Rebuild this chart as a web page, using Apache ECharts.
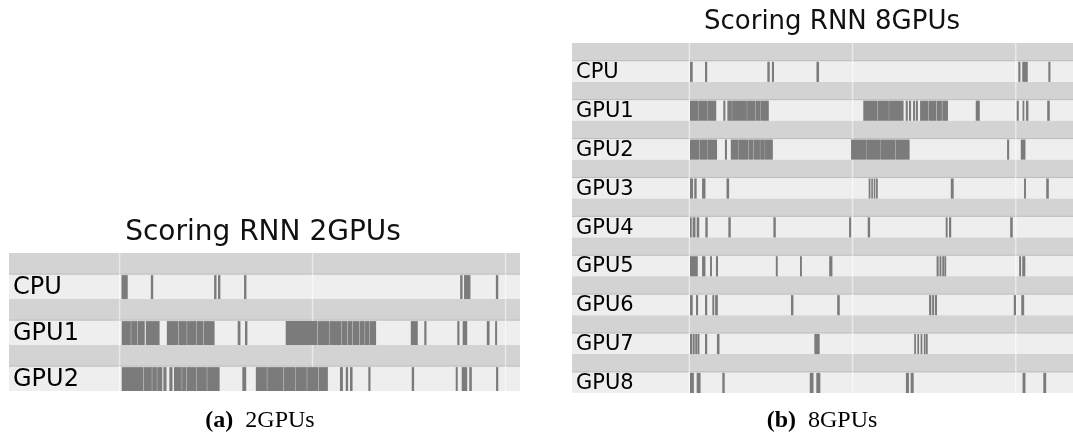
<!DOCTYPE html>
<html><head><meta charset="utf-8">
<script src="https://cdn.jsdelivr.net/npm/echarts@6/dist/echarts.min.js"></script>
<style>html,body{margin:0;padding:0;background:#fff}#c{width:1073px;height:434px}</style>
</head><body><div id="c"></div>
<script>
// ---------- data (time units; grid lines every 10 units) ----------
const rows2 = ['CPU', 'GPU1', 'GPU2'];
const rows8 = ['CPU', 'GPU1', 'GPU2', 'GPU3', 'GPU4', 'GPU5', 'GPU6', 'GPU7', 'GPU8'];
const gridTicks = [0, 10, 20];

// 2-GPU run: busy intervals [start, end]
const cpu2 = [[0.1,0.4],[1.62,1.72],[4.9,5.0],[5.1,5.2],[6.45,6.55],[17.65,17.75],[17.85,18.16],[19.5,19.6]];
const gpu1_2 = [[0.11,0.56],[0.6,0.9],[0.94,1.28],[1.36,2.05],[2.45,3.03],[3.07,3.46],[3.5,3.94],[3.98,4.32],[4.36,4.9],
  [6.12,6.24],[6.5,6.6],[8.61,10.23],[10.27,10.83],[10.87,11.48],[11.52,11.78],[11.82,12.04],[12.08,12.4],[12.44,12.68],[12.72,12.93],[12.97,13.27],
  [15.09,15.43],[15.79,15.88],[17.5,17.59],[17.78,17.99],[19.03,19.15],[19.46,19.54]];
const gpu2_2 = [[0.11,1.21],[1.25,1.65],[1.69,1.91],[1.95,2.19],[2.27,2.41],[2.58,2.72],[2.82,3.2],[3.24,3.43],[3.47,3.94],[3.98,4.5],[4.54,5.16],
  [6.36,6.54],[7.06,7.61],[7.65,8.47],[8.51,9.07],[9.11,9.68],[9.72,10.28],[10.32,10.77],
  [11.42,11.55],[11.72,11.82],[11.94,12.05],[12.89,12.98],[15.14,15.24],[17.42,17.5],[17.73,17.99],[18.12,18.23],[19.51,19.6]];

// 8-GPU run: busy intervals [start, end]
const cpu8 = [[0.04,0.18],[0.96,1.07],[4.78,4.9],[5.06,5.16],[7.79,7.92],[20.16,20.26],[20.4,20.71],[22.0,22.1]];
const gpu1_8 = [[0.04,0.51],[0.55,1.06],[1.1,1.62],[2.08,2.18],[2.33,2.58],[2.62,3.5],[3.54,4.01],[4.05,4.31],[4.35,4.84],
  [10.66,11.5],[11.54,12.2],[12.24,13.1],[13.26,13.36],[13.46,13.56],[13.71,13.8],[13.88,13.98],[14.14,14.6],[14.65,15.1],[15.15,15.45],[15.5,15.82],
  [17.55,17.77],[20.06,20.16],[20.42,20.5],[20.63,20.75],[21.93,22.06]];
const gpu2_8 = [[0.04,0.6],[0.64,1.1],[1.14,1.67],[2.18,2.28],[2.54,3.0],[3.04,3.6],[3.64,3.9],[3.94,4.3],[4.34,4.6],[4.64,5.09],
  [9.91,10.8],[10.84,11.7],[11.74,12.6],[12.64,13.47],[19.47,19.57],[20.31,20.57]];
const gpu3_8 = [[0.04,0.2],[0.3,0.42],[0.78,0.96],[2.28,2.41],[10.99,11.07],[11.15,11.22],[11.3,11.37],[11.44,11.52],[16.02,16.17],[20.51,20.6],[21.87,22.0]];
const gpu4_8 = [[0.04,0.12],[0.2,0.35],[0.45,0.58],[0.98,1.1],[2.39,2.51],[5.15,5.27],[9.79,9.89],[10.93,11.05],[15.71,15.8],[15.91,16.02],[19.66,19.79]];
const gpu5_8 = [[0.04,0.49],[0.78,0.96],[1.27,1.36],[1.63,1.73],[5.3,5.39],[6.78,6.87],[8.57,8.74],[15.15,15.25],[15.33,15.42],[15.5,15.59],[15.63,15.71],[20.21,20.3],[20.4,20.56]];
const gpu6_8 = [[0.04,0.18],[0.41,0.51],[0.96,1.07],[1.41,1.5],[1.58,1.72],[6.23,6.35],[9.06,9.19],[14.69,14.8],[14.88,14.97],[15.05,15.15],[19.88,19.99],[20.34,20.49]];
const gpu7_8 = [[0.04,0.14],[0.2,0.3],[0.36,0.46],[0.5,0.59],[0.96,1.07],[1.69,1.82],[7.66,7.96],[13.78,13.86],[13.97,14.05],[14.17,14.25],[14.37,14.45],[14.5,14.58]];
const gpu8_8 = [[0.04,0.25],[0.45,0.66],[2.02,2.14],[7.38,7.58],[7.78,8.0],[13.27,13.43],[13.56,13.72],[20.42,20.57],[21.69,21.84]];

const events2 = [cpu2, gpu1_2, gpu2_2];
const events8 = [cpu8, gpu1_8, gpu2_8, gpu3_8, gpu4_8, gpu5_8, gpu6_8, gpu7_8, gpu8_8];

// ---------- helpers ----------
const GRAY = 0.47;           // share of each row taken by the darker separator band
function flatten(events) {
  const out = [];
  events.forEach((list, r) => list.forEach(iv => out.push([r, iv[0], iv[1]])));
  return out;
}
function makeBg(labels, fontSize) {
  return function (params, api) {
    const i = api.value(0);
    const cs = params.coordSys;
    const yTop = api.coord([0, i])[1];
    const yMid = api.coord([0, i + GRAY])[1];
    const yBot = api.coord([0, i + 1])[1];
    return { type: 'group', children: [
      { type: 'rect', shape: { x: cs.x, y: yTop, width: cs.width, height: yMid - yTop }, style: { fill: '#d3d3d3' } },
      { type: 'rect', shape: { x: cs.x, y: yMid, width: cs.width, height: yBot - yMid }, style: { fill: '#eeeeee' } },
      { type: 'line', shape: { x1: cs.x, y1: yMid - 0.5, x2: cs.x + cs.width, y2: yMid - 0.5 }, style: { stroke: '#bdbdbd', lineWidth: 1 } },
      { type: 'text', x: cs.x + 4, y: (yMid + yBot) / 2 + 1, z2: 10,
        style: { text: labels[i], fontFamily: 'DejaVu Sans', fontSize: fontSize, fill: '#000', align: 'left', verticalAlign: 'middle' } }
    ] };
  };
}
function makeGridLines(n) {
  return function (params, api) {
    const t = api.value(0);
    const p0 = api.coord([t, 0]), p1 = api.coord([t, n]);
    return { type: 'line', shape: { x1: p0[0], y1: p0[1], x2: p1[0], y2: p1[1] },
      style: { stroke: 'rgba(255,255,255,0.5)', lineWidth: 1.5 } };
  };
}
function eventItem(params, api) {
  const r = api.value(0), s = api.value(1), e = api.value(2);
  const p0 = api.coord([s, r + GRAY]);
  const p1 = api.coord([e, r + 1]);
  return { type: 'rect', shape: { x: p0[0], y: p0[1] + 0.5, width: Math.max(p1[0] - p0[0] + 0.45, 1.6), height: p1[1] - p0[1] - 0.5 },
    style: { fill: '#7b7b7b' } };
}

const chart = echarts.init(document.getElementById('c'), null, { renderer: 'canvas' });
chart.setOption({
  animation: false,
  backgroundColor: '#ffffff',
  grid: [
    { left: 9, top: 253, width: 511, height: 138 },
    { left: 572, top: 43, width: 501, height: 350 }
  ],
  xAxis: [
    { gridIndex: 0, type: 'value', min: -5.73, max: 20.75, show: false, splitLine: { show: false } },
    { gridIndex: 1, type: 'value', min: -7.19, max: 23.51, show: false, splitLine: { show: false } }
  ],
  yAxis: [
    { gridIndex: 0, type: 'value', min: 0, max: rows2.length, inverse: true, show: false, splitLine: { show: false } },
    { gridIndex: 1, type: 'value', min: 0, max: rows8.length, inverse: true, show: false, splitLine: { show: false } }
  ],
  graphic: [
    { type: 'text', x: 263, y: 233, style: { text: 'Scoring RNN 2GPUs', fontFamily: 'DejaVu Sans', fontSize: 28, fill: '#111', align: 'center', verticalAlign: 'middle' } },
    { type: 'text', x: 832, y: 22, style: { text: 'Scoring RNN 8GPUs', fontFamily: 'DejaVu Sans', fontSize: 26, fill: '#111', align: 'center', verticalAlign: 'middle' } },
    { type: 'text', x: 260, y: 421, style: { text: '{b|(a)}  2GPUs', fontFamily: 'Liberation Serif', fontSize: 24, fill: '#000', align: 'center', verticalAlign: 'middle',
      rich: { b: { fontFamily: 'Liberation Serif', fontSize: 24, fontWeight: 'bold' } } } },
    { type: 'text', x: 822, y: 421, style: { text: '{b|(b)}  8GPUs', fontFamily: 'Liberation Serif', fontSize: 24, fill: '#000', align: 'center', verticalAlign: 'middle',
      rich: { b: { fontFamily: 'Liberation Serif', fontSize: 24, fontWeight: 'bold' } } } }
  ],
  series: [
    { type: 'custom', xAxisIndex: 0, yAxisIndex: 0, z: 1, clip: false, renderItem: makeBg(rows2, 24),
      data: rows2.map((r, i) => [i, 0]), encode: { x: 1, y: 0 } },
    { type: 'custom', xAxisIndex: 0, yAxisIndex: 0, z: 2, renderItem: makeGridLines(rows2.length),
      data: gridTicks.map(t => [t]), encode: { x: 0 } },
    { type: 'custom', xAxisIndex: 0, yAxisIndex: 0, z: 3, renderItem: eventItem,
      data: flatten(events2), encode: { x: [1, 2], y: 0 } },
    { type: 'custom', xAxisIndex: 1, yAxisIndex: 1, z: 1, clip: false, renderItem: makeBg(rows8, 21),
      data: rows8.map((r, i) => [i, 0]), encode: { x: 1, y: 0 } },
    { type: 'custom', xAxisIndex: 1, yAxisIndex: 1, z: 2, renderItem: makeGridLines(rows8.length),
      data: gridTicks.map(t => [t]), encode: { x: 0 } },
    { type: 'custom', xAxisIndex: 1, yAxisIndex: 1, z: 3, renderItem: eventItem,
      data: flatten(events8), encode: { x: [1, 2], y: 0 } }
  ]
});
</script></body></html>
